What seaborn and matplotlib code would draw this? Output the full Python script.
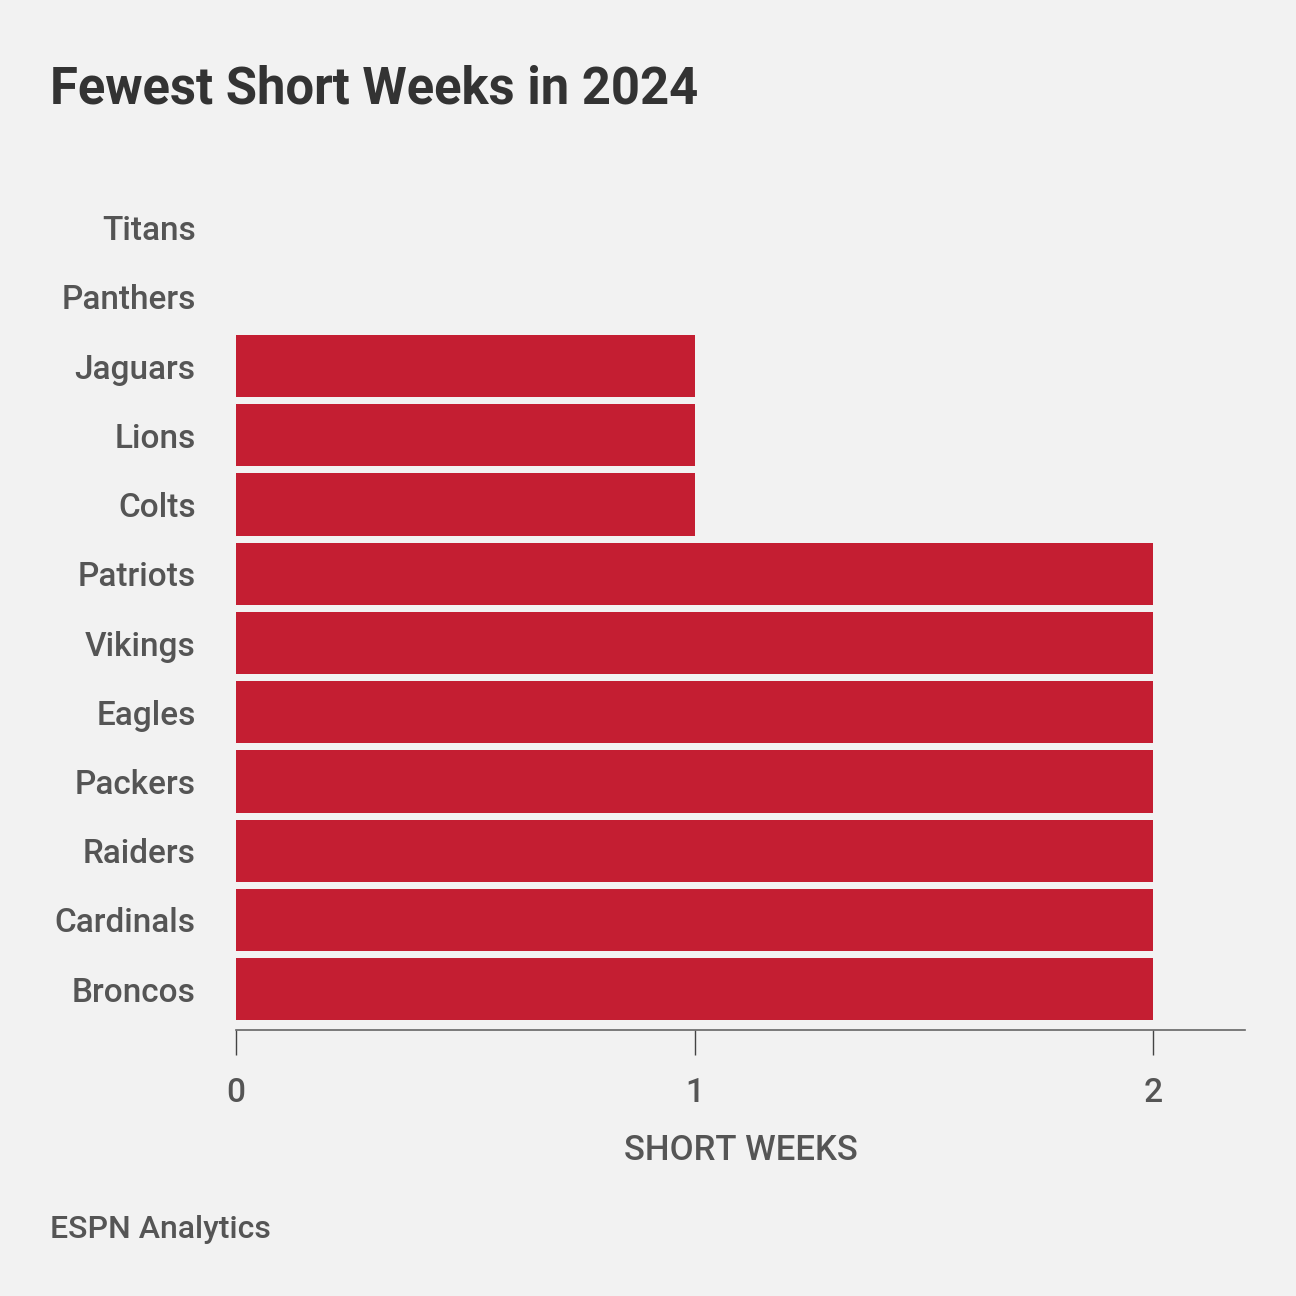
import pandas as pd
import matplotlib
matplotlib.use("Agg")
import matplotlib.pyplot as plt
import seaborn as sns

# Data
teams = ["Titans", "Panthers", "Jaguars", "Lions", "Colts", "Patriots",
         "Vikings", "Eagles", "Packers", "Raiders", "Cardinals", "Broncos"]
short_weeks = [0, 0, 1, 1, 1, 2, 2, 2, 2, 2, 2, 2]
x_ticks = [0, 1, 2]

df = pd.DataFrame({"team": teams, "short_weeks": short_weeks})

bg = "#f2f2f2"
red = "#c41e32"
text_dark = "#333333"
text_mid = "#555555"

sns.set_style("white")
plt.rcParams["font.family"] = ["Roboto", "DejaVu Sans"]

fig = plt.figure(figsize=(12.96, 12.96), dpi=100, facecolor=bg)
ax = fig.add_axes([0.182, 0.2052, 0.7786, 0.6459])
ax.set_facecolor(bg)

sns.barplot(data=df, y="team", x="short_weeks", order=teams, color=red,
            saturation=1, width=0.9, orient="h", linewidth=0, ax=ax)

ax.set_xlim(0, 2.2)
ax.set_ylim(11.59, -0.5)
ax.set_xticks(x_ticks)
ax.set_xticklabels([str(t) for t in x_ticks])

for s in ["top", "right", "left"]:
    ax.spines[s].set_visible(False)
ax.spines["bottom"].set_color("#666666")
ax.spines["bottom"].set_linewidth(1.2)

ax.tick_params(axis="x", bottom=True, length=18, width=1, color="#444444",
               pad=16, labelsize=24, labelcolor=text_mid)
ax.tick_params(axis="y", left=False, length=0, pad=29, labelsize=24,
               labelcolor=text_mid)
for lab in ax.get_yticklabels():
    lab.set_fontweight("medium")
for lab in ax.get_xticklabels():
    lab.set_fontweight("medium")

ax.set_ylabel("")
ax.set_xlabel("SHORT WEEKS", fontsize=25, color=text_mid, fontweight="medium",
              labelpad=18)

fig.text(50 / 1296, 1 - 89 / 1296, "Fewest Short Weeks in 2024", fontsize=36.5,
         fontweight="bold", color=text_dark, ha="left", va="center")
fig.text(50 / 1296, 1 - 1229 / 1296, "ESPN Analytics", fontsize=23,
         fontweight="medium", color=text_mid, ha="left", va="center")

fig.savefig("out.png", dpi=100, facecolor=bg)
